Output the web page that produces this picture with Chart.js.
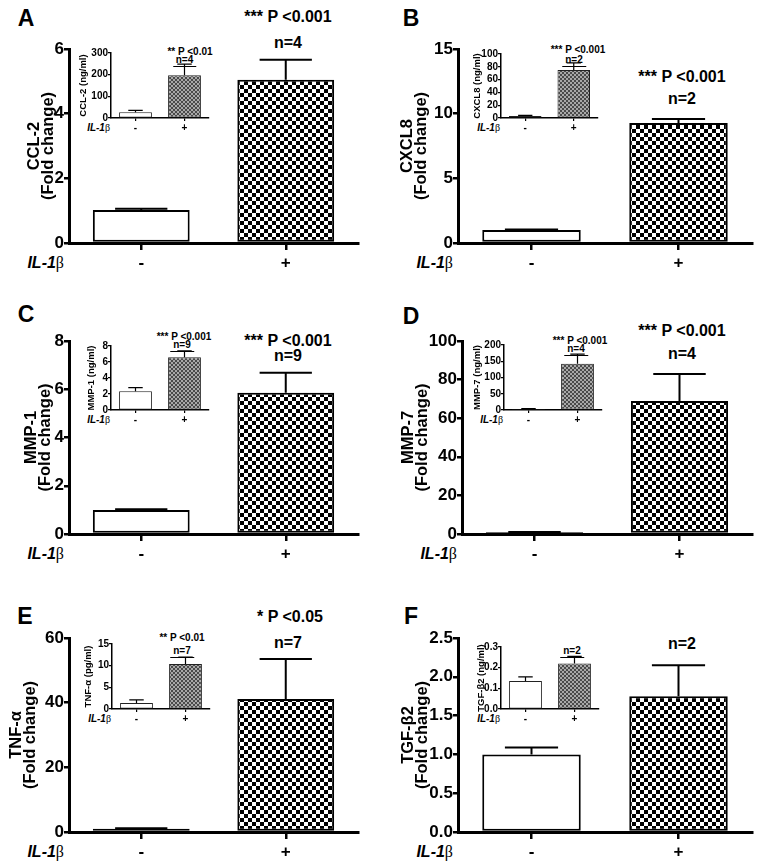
<!DOCTYPE html>
<html><head><meta charset="utf-8">
<script src="https://cdn.jsdelivr.net/npm/chart.js@4.4.1/dist/chart.umd.min.js"></script>
<style>
html,body{margin:0;padding:0;background:#fff;}
#wrap{position:relative;width:759px;height:866px;overflow:hidden;background:#fff;font-family:"Liberation Sans",Arial,sans-serif;font-weight:bold;color:#000;}
canvas{position:absolute;}
.t{position:absolute;white-space:nowrap;transform:translate(-50%,-50%);line-height:1;}
.r{position:absolute;white-space:nowrap;transform:translate(-100%,-50%);line-height:1;}
.u{border-bottom:1px solid #000;padding:0 3px 1px 3px;}
.beta{font-family:"Liberation Serif","DejaVu Serif",serif;font-weight:normal;font-style:normal;}
</style></head><body><div id="wrap"></div>
<script>
// ---------- DATA ----------
const categories = ['-', '+'];
// fold change (main panels)
const ccl2Fold = [1.02, 5.05],  ccl2FoldErr = [0.04, 0.62];
const cxcl8Fold = [1.0, 9.28],  cxcl8FoldErr = [0.05, 0.3];
const mmp1Fold = [1.0, 5.85],   mmp1FoldErr = [0.03, 0.83];
const mmp7Fold = [1.0, 68.9],   mmp7FoldErr = [0.1, 14];
const tnfFold = [1.0, 41.1],    tnfFoldErr = [0.15, 12.4];
const tgfFold = [1.0, 1.75],    tgfFoldErr = [0.09, 0.4];
// concentrations (insets)
const ccl2Conc = [27, 197],     ccl2ConcErr = [8, 52];
const cxcl8Conc = [3, 75],      cxcl8ConcErr = [1, 11];
const mmp1Conc = [2.35, 6.6],   mmp1ConcErr = [0.45, 0.8];
const mmp7Conc = [3, 142],      mmp7ConcErr = [1, 30];
const tnfConc = [1.4, 10.4],    tnfConcErr = [0.7, 1.6];
const tgfConc = [0.135, 0.22],  tgfConcErr = [0.02, 0.035];
// axis tick ranges
const foldMax = [6, 15, 8, 100, 60, 2.5], foldStep = [2, 5, 2, 20, 20, 0.5];
const concMax = [300, 100, 8, 200, 15, 0.3], concStep = [100, 20, 2, 50, 5, 0.1];
// texts
const panelLetters = ['A','B','C','D','E','F'];
const markerNames = ['CCL-2','CXCL8','MMP-1','MMP-7','TNF-\u03B1','TGF-\u03B22'];
const insetTitles = ['CCL-2 (ng/ml)','CXCL8 (ng/ml)','MMP-1 (ng/ml)','MMP-7 (ng/ml)','TNF-\u03B1 (pg/ml)','TGF-\u03B22 (ng/ml)'];
const mainP = ['*** P <0.001','*** P <0.001','*** P <0.001','*** P <0.001','* P <0.05',''];
const mainN = ['n=4','n=2','n=9','n=4','n=7','n=2'];
const insetP = ['** P <0.01','*** P <0.001','*** P <0.001','*** P <0.001','** P <0.01',''];

const foldVals = [ccl2Fold, cxcl8Fold, mmp1Fold, mmp7Fold, tnfFold, tgfFold];
const foldErrs = [ccl2FoldErr, cxcl8FoldErr, mmp1FoldErr, mmp7FoldErr, tnfFoldErr, tgfFoldErr];
const concVals = [ccl2Conc, cxcl8Conc, mmp1Conc, mmp7Conc, tnfConc, tgfConc];
const concErrs = [ccl2ConcErr, cxcl8ConcErr, mmp1ConcErr, mmp7ConcErr, tnfConcErr, tgfConcErr];

// ---------- LAYOUT ----------
const FONT = '"Liberation Sans", Arial, sans-serif';
const mainBox = [
  {cell:0,   l:69,  t:49,  r:358, b:243, tc:34},
  {cell:380, l:458, t:49,  r:752, b:243, tc:407},
  {cell:0,   l:69,  t:341, r:358, b:534, tc:31},
  {cell:380, l:462, t:341, r:752, b:534, tc:408},
  {cell:0,   l:69,  t:638, r:358, b:832, tc:16},
  {cell:380, l:458, t:638, r:752, b:832, tc:408}
];
const insetBox = [
  {cl:75,  l:111, t:53,  r:209, b:118, tc:83.5},
  {cl:462, l:501, t:54,  r:598, b:118, tc:477},
  {cl:75,  l:111, t:346, r:209, b:410, tc:91},
  {cl:462, l:504, t:345, r:602, b:410, tc:477},
  {cl:75,  l:112, t:644, r:210, b:709, tc:88},
  {cl:462, l:501, t:647, r:599, b:709, tc:481}
];
const annMain = [
  {L:[26,18],  P:[288,17],  N:[288,43]},
  {L:[411,18], P:[682,77],  N:[682,99]},
  {L:[26,314], P:[288,341], N:[288,356]},
  {L:[411,316],P:[682,331], N:[682,354]},
  {L:[25,616], P:[290,617], N:[288,643]},
  {L:[411,616],P:null,      N:[682,644]}
];
const annInset = [
  {P:[190,52],  N:[184.5,60]},
  {P:[578,50],  N:[574,60]},
  {P:[184,337], N:[182,345]},
  {P:[580,341], N:[576,349]},
  {P:[182,638], N:[182,651]},
  {P:null,      N:[572,651]}
];

// ---------- HELPERS ----------
function tile(size, c1, c2){
  const c=document.createElement('canvas'); c.width=c.height=size*2;
  const g=c.getContext('2d'); g.fillStyle=c1; g.fillRect(0,0,size*2,size*2);
  g.fillStyle=c2; g.fillRect(0,0,size,size); g.fillRect(size,size,size,size);
  return c;
}
const mainTile = tile(4,'#ffffff','#000000');
const insetTile = tile(2,'#4a4a4a','#a8a8a8');

const errPlugin = {
  id:'errbars',
  afterDatasetsDraw(chart, args, opts){
    const ds = chart.data.datasets[0], meta = chart.getDatasetMeta(0), y = chart.scales.y, c = chart.ctx;
    c.save(); c.strokeStyle='#000'; c.lineWidth=opts.lw; c.lineCap='butt';
    meta.data.forEach((bar,i)=>{
      const v=ds.data[i], e=ds.errors[i];
      const y0=y.getPixelForValue(v), y1=y.getPixelForValue(v+e), hw=bar.width*opts.cap;
      c.beginPath(); c.moveTo(bar.x,y0); c.lineTo(bar.x,y1);
      c.moveTo(bar.x-hw,y1); c.lineTo(bar.x+hw,y1); c.stroke();
    });
    c.restore();
  }
};

const wrap = document.getElementById('wrap');
function addCanvas(x,y,w,h,z){
  const cv=document.createElement('canvas'); cv.width=w; cv.height=h;
  cv.style.left=x+'px'; cv.style.top=y+'px'; cv.style.width=w+'px'; cv.style.height=h+'px'; cv.style.zIndex=z;
  wrap.appendChild(cv); return cv;
}
function addText(html, x, y, size, cls){
  const d=document.createElement('div'); d.className=cls||'t'; d.innerHTML=html;
  d.style.left=x+'px'; d.style.top=y+'px'; d.style.fontSize=size+'px';
  wrap.appendChild(d); return d;
}

function makeChart(cv, o){
  const patCache = {};
  return new Chart(cv, {
    type:'bar',
    data:{ labels:categories, datasets:[{
      data:o.vals, errors:o.errs,
      backgroundColor:(ctx)=> ctx.dataIndex===0 ? '#ffffff' :
        (patCache.p || (patCache.p = ctx.chart.ctx.createPattern(o.tile,'repeat'))),
      borderColor:o.border, borderWidth:o.bw, borderSkipped:false,
      barPercentage:0.67, categoryPercentage:1
    }]},
    options:{
      responsive:false, animation:false, devicePixelRatio:1,
      layout:{padding:{top:o.padT,right:o.padR,left:0,bottom:0}},
      plugins:{legend:{display:false}, tooltip:{enabled:false}, errbars:{lw:o.elw, cap:o.cap}},
      scales:{
        x:{ type:'category', offset:true, z:1,
          grid:{display:true, drawOnChartArea:false, offset:false, tickLength:o.xtl, lineWidth:o.tlw, color:'#000'},
          border:{display:true, width:o.axw, color:'#000'},
          ticks:{font:{family:FONT,size:o.xfs,weight:'bold'}, color:'#000', padding:o.xpad, maxRotation:0, autoSkip:false},
          afterFit:(s)=>{ s.height=o.xH; }
        },
        y:{ type:'linear', min:0, max:o.max, z:1,
          grid:{display:true, drawOnChartArea:false, tickLength:o.ytl, lineWidth:o.tlw, color:'#000'},
          border:{display:true, width:o.axw, color:'#000'},
          ticks:{stepSize:o.step, autoSkip:false, font:{family:FONT,size:o.yfs,weight:'bold'}, color:'#000', padding:o.ypad,
            callback:(v)=> o.dec ? Number(v).toFixed(o.dec) : String(v)},
          title:{display:true, text:o.title, color:'#000', font:{family:FONT,size:o.tfs,weight:'bold',lineHeight:o.tlh}, padding:{top:o.tpad,bottom:0}},
          afterFit:(s)=>{ s.width=o.yW; }
        }
      }
    },
    plugins:[errPlugin]
  });
}

// ---------- BUILD ----------
for(let i=0;i<6;i++){
  const m = mainBox[i];
  const padT=12, padR=12, xH=34;
  const cv = addCanvas(m.cell, m.t-padT, m.r+padR-m.cell, m.b-m.t+padT+xH, 1);
  const tfs=16.5, tlh=0.9;
  makeChart(cv, {
    vals:foldVals[i], errs:foldErrs[i], tile:mainTile, border:'#000', bw:2,
    padT, padR, xH, yW:m.l-m.cell, max:foldMax[i], step:foldStep[i], dec: i===5?1:0,
    title:[markerNames[i],'(Fold change)'], tfs, tlh, tpad: m.tc - m.cell - tfs*tlh/2,
    xtl:7, ytl:5, tlw:2.5, axw:3, xfs:17, yfs:17, xpad:3, ypad:0, elw:2, cap:0.27
  });
  // inset
  const s = insetBox[i];
  const ipT=8, ipR=6, ixH=18, itfs=9.5;
  const icv = addCanvas(s.cl, s.t-ipT, s.r+ipR-s.cl, s.b-s.t+ipT+ixH, 2);
  makeChart(icv, {
    vals:concVals[i], errs:concErrs[i], tile:insetTile, border:'#222', bw:1,
    padT:ipT, padR:ipR, xH:ixH, yW:s.l-s.cl, max:concMax[i], step:concStep[i], dec: i===5?1:0,
    title:insetTitles[i], tfs:itfs, tlh:1, tpad: s.tc - s.cl - itfs/2,
    xtl:3, ytl:3, tlw:1.2, axw:1.5, xfs:10, yfs:10, xpad:1, ypad:0, elw:1.2, cap:0.22
  });

  // annotations
  const a = annMain[i];
  addText(panelLetters[i], a.L[0], a.L[1], 23);
  if(a.P) addText(mainP[i], a.P[0], a.P[1], 16);
  addText(mainN[i], a.N[0], a.N[1], 16);
  addText('<i>IL-1</i><span class="beta">\u03B2</span>', m.l-5, m.b+20, 16, 'r');
  const ai = annInset[i];
  if(ai.P) addText(insetP[i], ai.P[0], ai.P[1], 10);
  addText('<span class="u">'+mainN[i]+'</span>', ai.N[0], ai.N[1], 10);
  addText('<i>IL-1</i><span class="beta">\u03B2</span>', s.l-1, s.b+10, 10, 'r');
}
</script></body></html>
